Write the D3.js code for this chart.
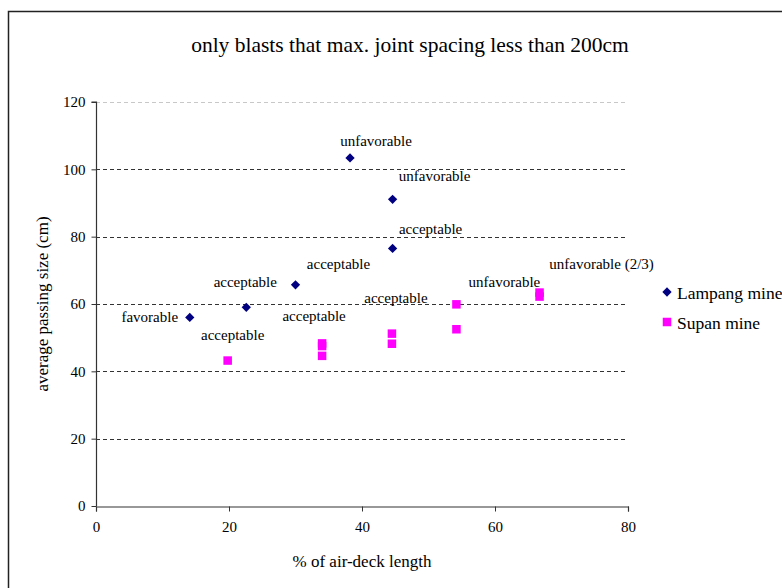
<!DOCTYPE html>
<html>
<head>
<meta charset="utf-8">
<script src="https://cdn.jsdelivr.net/npm/d3@7/dist/d3.min.js"></script>
<style>
  html, body { margin: 0; padding: 0; background: #fff; }
  svg { display: block; }
  svg text { font-family: "Liberation Serif", "Times New Roman", serif !important; fill: #000; }
</style>
</head>
<body>
<svg id="chart" width="782" height="588" font-family="Liberation Serif, serif"></svg>
<script>
// ---- data ----
const title = "only blasts that max. joint spacing less than 200cm";
const xAxisTitle = "% of air-deck length";
const yAxisTitle = "average passing size (cm)";
const xTicks = [0, 20, 40, 60, 80];
const yTicks = [0, 20, 40, 60, 80, 100, 120];

const seriesNames = ["Lampang mine", "Supan mine"];
const lampangX = [14.1, 22.6, 30.0, 38.2, 44.6, 44.6];
const lampangY = [56.0, 59.0, 65.7, 103.4, 91.1, 76.5];
const supanX = [19.8, 34.0, 34.0, 34.0, 44.5, 44.5, 54.2, 54.2, 66.7, 66.7];
const supanY = [43.2, 48.3, 47.5, 44.6, 51.2, 48.2, 59.9, 52.5, 63.4, 62.2];

// data labels: [series index, point index, text]
const labelSeries = [0, 1, 0, 0, 1, 0, 0, 0, 1, 1, 1];
const labelPoint  = [0, 0, 1, 2, 1, 3, 4, 5, 4, 6, 8];
const labelText = ["favorable", "acceptable", "acceptable", "acceptable", "acceptable",
  "unfavorable", "unfavorable", "acceptable", "acceptable", "unfavorable", "unfavorable (2/3)"];

// ---- layout ----
const FONT = "'Liberation Serif', 'Times New Roman', serif";
const svg = d3.select("#chart");
const plot = { left: 96, right: 628, top: 102, bottom: 506 };
const x = d3.scaleLinear().domain([0, 80]).range([plot.left, plot.right]);
const y = d3.scaleLinear().domain([0, 120]).range([plot.bottom, plot.top]);

// outer chart border (extends beyond the visible area)
svg.append("rect")
  .attr("x", 8.5).attr("y", 11.5).attr("width", 800).attr("height", 600)
  .attr("fill", "none").attr("stroke", "#222").attr("stroke-width", 1.5);

// title
svg.append("text")
  .attr("x", 410).attr("y", 45)
  .attr("text-anchor", "middle").attr("dominant-baseline", "central")
  .attr("font-family", FONT)
  .style("font-size", "21.5px")
  .text(title);

// gridlines
svg.append("g").selectAll("line")
  .data(yTicks.filter(d => d > 0))
  .join("line")
  .attr("x1", plot.left).attr("x2", plot.right)
  .attr("y1", d => Math.round(y(d)) + 0.5).attr("y2", d => Math.round(y(d)) + 0.5)
  .attr("stroke", d => d === 120 ? "#c8c8c8" : "#333")
  .attr("stroke-width", 1)
  .attr("stroke-dasharray", "4,3");

// axes
const yAxis = d3.axisLeft(y).tickValues(yTicks).tickSize(5).tickPadding(6).tickFormat(d3.format("d"));
const xAxis = d3.axisBottom(x).tickValues(xTicks).tickSize(5).tickPadding(10).tickFormat(d3.format("d"));

const gy = svg.append("g").attr("transform", `translate(${plot.left + 0.5},0)`).call(yAxis);
const gx = svg.append("g").attr("transform", `translate(0,${plot.bottom + 0.5})`).call(xAxis);
[gx, gy].forEach(g => {
  g.attr("font-family", FONT).attr("font-size", 15);
  g.select(".domain").attr("stroke", "#333").attr("stroke-width", 1.2);
  g.selectAll(".tick line").attr("stroke", "#333");
  g.selectAll(".tick text").attr("font-family", FONT).attr("fill", "#000");
});
gy.select(".domain").attr("d", `M-5,${y(120)}H0V${y(0)}`);

// axis titles
svg.append("text")
  .attr("x", 362).attr("y", 561)
  .attr("text-anchor", "middle").attr("dominant-baseline", "central")
  .attr("font-family", FONT)
  .style("font-size", "17px")
  .text(xAxisTitle);
svg.append("text")
  .attr("transform", "translate(42,304) rotate(-90)")
  .attr("text-anchor", "middle").attr("dominant-baseline", "central")
  .attr("font-family", FONT)
  .style("font-size", "17px")
  .text(yAxisTitle);

// points
const lampang = lampangX.map((v, i) => ({ x: v, y: lampangY[i] }));
const supan = supanX.map((v, i) => ({ x: v, y: supanY[i] }));
const series = [lampang, supan];
const colors = ["#000080", "#ff00ff"];

const diamond = d3.symbol().type(d3.symbolDiamond2).size(55);
svg.append("g").selectAll("path")
  .data(lampang)
  .join("path")
  .attr("d", diamond)
  .attr("transform", d => `translate(${x(d.x)},${y(d.y)})`)
  .attr("fill", colors[0]);

const sq = 8.5;
svg.append("g").selectAll("rect")
  .data(supan)
  .join("rect")
  .attr("x", d => x(d.x) - sq / 2).attr("y", d => y(d.y) - sq / 2)
  .attr("width", sq).attr("height", sq)
  .attr("fill", colors[1]);

// data labels (offsets from their point, in px)
const labelDx = [-40, 5, -1, 43, -8, 26, 42, 38, 4, 48, 62];
const labelDy = [0, -26, -25, -21, -27, -17, -23, -19, -36, -22, -29];
svg.append("g").selectAll("text")
  .data(labelText.map((t, i) => ({ t, p: series[labelSeries[i]][labelPoint[i]], dx: labelDx[i], dy: labelDy[i] })))
  .join("text")
  .attr("x", d => x(d.p.x) + d.dx)
  .attr("y", d => y(d.p.y) + d.dy)
  .attr("text-anchor", "middle").attr("dominant-baseline", "central")
  .attr("font-family", FONT)
  .style("font-size", "15px")
  .text(d => d.t);

// legend
const legend = svg.append("g");
seriesNames.forEach((name, i) => {
  const cy = 292 + i * 30;
  if (i === 0) {
    legend.append("path").attr("d", diamond).attr("transform", `translate(667,${cy})`).attr("fill", colors[0]);
  } else {
    legend.append("rect").attr("x", 667 - sq / 2).attr("y", cy - sq / 2).attr("width", sq).attr("height", sq).attr("fill", colors[1]);
  }
  legend.append("text")
    .attr("x", 677).attr("y", cy + 1)
    .attr("dominant-baseline", "central")
    .attr("font-family", FONT)
    .style("font-size", "17.5px")
    .text(name);
});
</script>
</body>
</html>
